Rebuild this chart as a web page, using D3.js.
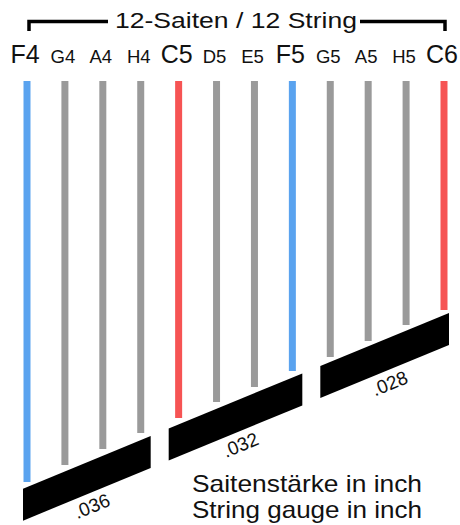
<!DOCTYPE html>
<html>
<head>
<meta charset="utf-8">
<script src="https://cdn.jsdelivr.net/npm/d3@7"></script>
<style>
	body{margin:0;background:#fff;}
	text{font-family:Arial,"Liberation Sans",sans-serif;fill:#111;}
</style>
</head>
<body>
<svg width="460" height="525"></svg>
<script>
(()=>{

//data
let notes = ["F4","G4","A4","H4","C5","D5","E5","F5","G5","A5","H5","C6"];
//relative string length
let lengths = [401,384,368,352,337,321,306,290,276,260,244,229];
let gauges = [".036",".032",".028"];
let groups = [["F4","G4","A4","H4"],["C5","D5","E5","F5"],["G5","A5","H5","C6"]];
let title = "12-Saiten / 12 String";
let caption = ["Saitenstärke in inch","String gauge in inch"];

let svg = d3.select("svg");

let x = d3.scalePoint().domain(notes).range([27,444]);
let y = d3.scaleLinear().domain([0,401]).range([81,482]);

function noteColor(n){
	if(n[0]=="F") return "#5aa3ef";
	if(n[0]=="C") return "#f65454";
	return "#9a9a9a";
}

//strings
svg.selectAll(".string")
	.data(notes)
	.enter().append("line")
	.attr("class","string")
	.attr("x1", d => x(d))
	.attr("x2", d => x(d))
	.attr("y1", y(0))
	.attr("y2", (d,i) => y(lengths[i]))
	.attr("stroke", d => noteColor(d))
	.attr("stroke-width", 7);

//note labels
svg.selectAll(".note")
	.data(notes)
	.enter().append("text")
	.attr("class","note")
	.attr("x", d => x(d) - 2)
	.attr("y", 63)
	.attr("text-anchor","middle")
	.attr("font-size", d => (d[0]=="F"||d[0]=="C") ? 25 : 18.5)
	.text(d => d);

//bar top line follows the string ends
let n = notes.length;
let xa = x(notes[0]), xb = x(notes[n-1]);
let ya = y(lengths[0]) + 5, yb = y(lengths[n-1]) + 5;
let slope = (yb-ya)/(xb-xa);
function barTop(px){ return ya + slope*(px-xa); }
let barH = 32;
let angle = Math.atan(slope)*180/Math.PI;

let bars = groups.map((g,i) => {
	let first = x(g[0]), last = x(g[g.length-1]);
	let left = i==0 ? first-4 : (first + x(groups[i-1][groups[i-1].length-1]))/2 + 9;
	let right = i==groups.length-1 ? last+5 : (last + x(groups[i+1][0]))/2 - 9;
	return {left:left, right:right, label:gauges[i]};
});

svg.selectAll(".bar")
	.data(bars)
	.enter().append("path")
	.attr("class","bar")
	.attr("d", d => "M"+d.left+","+barTop(d.left)
		+"L"+d.right+","+barTop(d.right)
		+"L"+d.right+","+(barTop(d.right)+barH)
		+"L"+d.left+","+(barTop(d.left)+barH)+"Z")
	.attr("fill","#000");

svg.selectAll(".gauge")
	.data(bars)
	.enter().append("text")
	.attr("class","gauge")
	.attr("transform", d => {
		let cx = (d.left+d.right)/2 + 5;
		let cy = barTop(cx) + barH + 14;
		return "translate("+cx+","+cy+") rotate("+angle+")";
	})
	.attr("text-anchor","middle")
	.attr("dominant-baseline","central")
	.attr("font-size",19)
	.text(d => d.label);

//title bracket
svg.append("path")
	.attr("d","M29,31V21.5H108M360,21.5H445V31")
	.attr("fill","none")
	.attr("stroke","#000")
	.attr("stroke-width",3.5);

svg.append("text")
	.attr("x",236)
	.attr("y",28)
	.attr("text-anchor","middle")
	.attr("font-size",21.5)
	.attr("textLength",242)
	.attr("lengthAdjust","spacingAndGlyphs")
	.text(title);

//caption
svg.selectAll(".caption")
	.data(caption)
	.enter().append("text")
	.attr("class","caption")
	.attr("x",192)
	.attr("y",(d,i) => 492 + i*26)
	.attr("font-size",24)
	.attr("textLength",230)
	.attr("lengthAdjust","spacingAndGlyphs")
	.text(d => d);

})();
</script>
</body>
</html>
